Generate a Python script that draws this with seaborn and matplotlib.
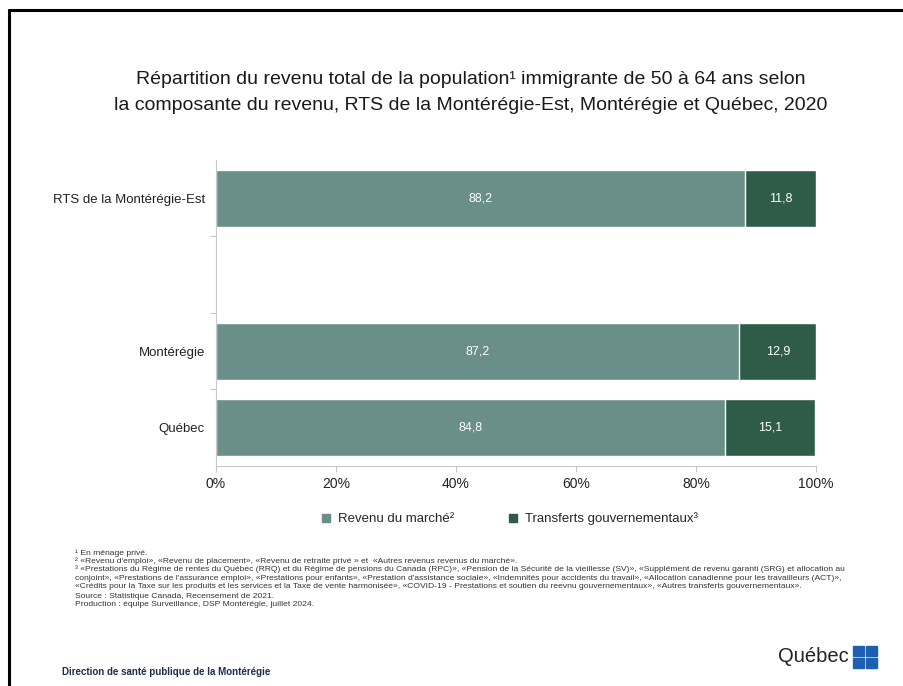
import matplotlib
matplotlib.use("Agg")
import matplotlib.pyplot as plt
import matplotlib.patches as mpatches
from matplotlib.lines import Line2D
import seaborn as sns
import pandas as pd
import numpy as np

regions = ["RTS de la Montérégie-Est", "Montérégie", "Québec"]
order = ["RTS de la Montérégie-Est", " ", "Montérégie", "Québec"]
market = [88.2, 87.2, 84.8]
transfers = [11.8, 12.9, 15.1]
series_names = ["Revenu du marché²", "Transferts gouvernementaux³"]
xticks = [0, 20, 40, 60, 80, 100]
xticklabels = ["0%", "20%", "40%", "60%", "80%", "100%"]

c_market = "#6a8f88"
c_transf = "#2f5b49"

sns.set_theme(style="white")
plt.rcParams["font.family"] = ["Liberation Sans", "DejaVu Sans"]

df = pd.DataFrame({"region": regions, "market": market, "transfers": transfers})
df["total"] = (df["market"] + df["transfers"]).clip(upper=100)

fig = plt.figure(figsize=(9.04, 6.86), dpi=100)
ax = fig.add_axes([216/904, 1-466/686, 600/904, 306/686])

sns.barplot(data=df, y="region", x="total", order=order, color=c_transf,
            width=0.75, orient="h", ax=ax, saturation=1)
sns.barplot(data=df, y="region", x="market", order=order, color=c_market,
            width=0.75, orient="h", ax=ax, saturation=1)

ypos = {r: i for i, r in enumerate(order)}
for r, m, t in zip(regions, market, transfers):
    y = ypos[r]
    ax.text(m/2, y, f"{m:.1f}".replace(".", ","), color="white", ha="center", va="center", fontsize=9)
    ax.text(m + t/2, y, f"{t:.1f}".replace(".", ","), color="white", ha="center", va="center", fontsize=9)

ax.set_xlim(0, 100)
ax.set_ylim(3.5, -0.5)
ax.set_xlabel("")
ax.set_ylabel("")
ax.set_xticks(xticks)
ax.set_xticklabels(xticklabels, fontsize=10, color="#222222")
ax.set_yticks(range(len(order)))
ax.set_yticklabels(order, fontsize=9.5, color="#222222")
ax.tick_params(axis="y", which="major", length=0, pad=8)
ax.set_yticks([0.5, 1.5, 2.5], minor=True)
ax.tick_params(axis="y", which="minor", left=True, length=4, color="#c8c8c8", width=0.8, direction="out")
ax.tick_params(axis="x", length=4, color="#c8c8c8", width=0.8, direction="out", pad=4, bottom=True)
for s in ["top", "right"]:
    ax.spines[s].set_visible(False)
for s in ["left", "bottom"]:
    ax.spines[s].set_color("#c8c8c8")
    ax.spines[s].set_linewidth(0.8)

# Title
fig.text(0.521, 1-80/686, "Répartition du revenu total de la population¹ immigrante de 50 à 64 ans selon",
         ha="center", va="center", fontsize=14, color="#1a1a1a")
fig.text(0.521, 1-105/686, "la composante du revenu, RTS de la Montérégie-Est, Montérégie et Québec, 2020",
         ha="center", va="center", fontsize=14, color="#1a1a1a")

# Legend
handles = [mpatches.Patch(color=c_market, label=series_names[0]),
           mpatches.Patch(color=c_transf, label=series_names[1])]
fig.legend(handles=handles, loc="center", bbox_to_anchor=(510/904, 1-519/686), ncol=2,
           frameon=False, fontsize=9.5, handlelength=0.6, handleheight=0.6,
           columnspacing=4.2, handletextpad=0.6)

# Footnotes
notes = [
    "¹ En ménage privé.",
    "² «Revenu d'emploi», «Revenu de placement», «Revenu de retraite privé » et  «Autres revenus revenus du marché».",
    "³ «Prestations du Régime de rentes du Québec (RRQ) et du Régime de pensions du Canada (RPC)», «Pension de la Sécurité de la vieillesse (SV)», «Supplément de revenu garanti (SRG) et allocation au",
    "conjoint», «Prestations de l'assurance emploi», «Prestations pour enfants», «Prestation d'assistance sociale», «Indemnités pour accidents du travail», «Allocation canadienne pour les travailleurs (ACT)»,",
    "«Crédits pour la Taxe sur les produits et les services et la Taxe de vente harmonisée», «COVID-19 - Prestations et soutien du reevnu gouvernementaux», «Autres transferts gouvernementaux».",
    "Source : Statistique Canada, Recensement de 2021.",
    "Production : équipe Surveillance, DSP Montérégie, juillet 2024.",
]
ys = [553, 561, 569, 578, 586, 596, 604]
for t, y in zip(notes, ys):
    fig.text(75/904, 1-y/686, t, ha="left", va="center", fontsize=6.1, color="#333333")

fig.text(62/904, 1-672/686, "Direction de santé publique de la Montérégie", ha="left", va="center",
         fontsize=7, fontweight="bold", color="#1f2d4d")

# Quebec signature
fig.text(849/904, 1-657/686, "Québec", ha="right", va="center", fontsize=14.5, color="#222222")
for (x0, y0) in [(853, 646), (866, 646), (853, 658), (866, 658)]:
    fig.patches.append(mpatches.Rectangle((x0/904, 1-(y0+10)/686), 11/904, 10/686,
                                          transform=fig.transFigure, color="#1d5fb0"))

# frame
fig.add_artist(Line2D([9/904, 1], [1-10/686, 1-10/686], transform=fig.transFigure, color="black", lw=2.2))
fig.add_artist(Line2D([9/904, 9/904], [0, 1-10/686], transform=fig.transFigure, color="black", lw=2.2))

fig.savefig("out.png", dpi=100)
